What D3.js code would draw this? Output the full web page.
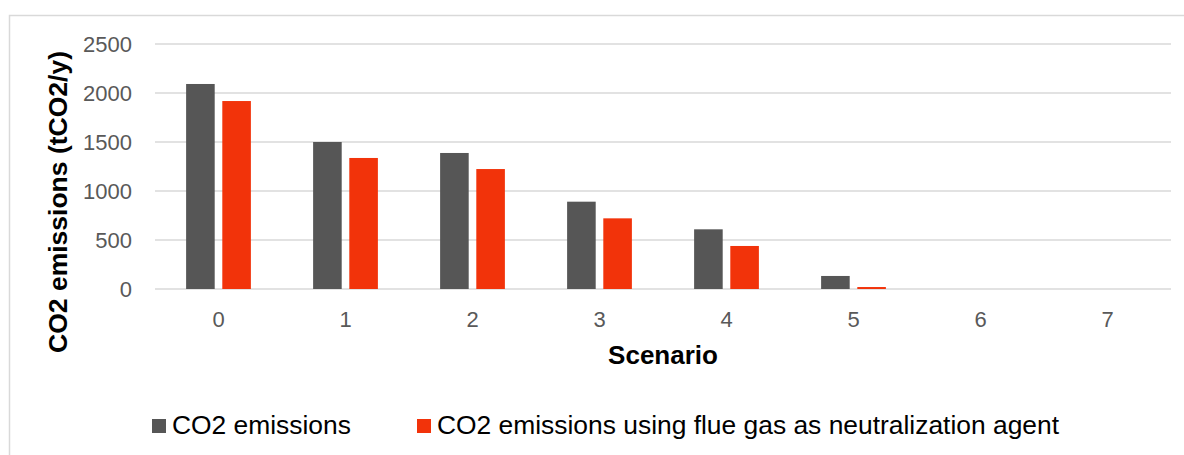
<!DOCTYPE html>
<html>
<head>
<meta charset="utf-8">
<script src="https://cdn.jsdelivr.net/npm/d3@7"></script>
<style>
  html, body { margin: 0; padding: 0; background: #ffffff; }
  svg { display: block; font-family: "Liberation Sans", Arial, sans-serif; }
</style>
</head>
<body>
<svg id="chart" width="1184" height="455"></svg>
<script>
// Scenario categories and yearly CO2 emissions (tCO2/y)
const scenarios = ["0", "1", "2", "3", "4", "5", "6", "7"];
const seriesNames = ["CO2 emissions", "CO2 emissions using flue gas as neutralization agent"];
const co2Emissions = [2092, 1500, 1388, 891, 609, 133, 0, 0];
const co2FlueGas = [1918, 1337, 1224, 721, 439, 20, 0, 0];
const yTicks = [0, 500, 1000, 1500, 2000, 2500];
const seriesColors = ["#565656", "#f2330a"];

const svg = d3.select("#chart");
const FONT = "'Liberation Sans', Arial, sans-serif";

// chart area frame
svg.append("rect")
  .attr("x", 9.5).attr("y", 15.5)
  .attr("width", 1200).attr("height", 460)
  .attr("fill", "none").attr("stroke", "#d9d9d9").attr("stroke-width", 1.5);

const plot = { left: 155, right: 1171, top: 44, bottom: 289 };

const x0 = d3.scaleBand().domain(scenarios)
  .range([plot.left, plot.right]).paddingInner(0.49).paddingOuter(0.245);
const x1 = d3.scaleBand().domain(seriesNames)
  .range([0, x0.bandwidth()]).paddingInner(0.21);
const y = d3.scaleLinear().domain([0, 2500]).range([plot.bottom, plot.top]);

// gridlines
svg.append("g").selectAll("line").data(yTicks).join("line")
  .attr("x1", plot.left).attr("x2", plot.right)
  .attr("y1", d => y(d)).attr("y2", d => y(d))
  .attr("stroke", "#d9d9d9").attr("stroke-width", 1.5);

// y axis labels
const yAxis = d3.axisLeft(y).tickValues(yTicks).tickFormat(d3.format("d")).tickSize(0).tickPadding(0);
const gy = svg.append("g").attr("transform", `translate(${plot.left - 23},0)`).call(yAxis);
gy.select(".domain").remove();
gy.selectAll("text")
  .attr("fill", "#595959").attr("font-size", 22).attr("font-family", FONT);

// x axis labels
const xAxis = d3.axisBottom(x0).tickSize(0).tickPadding(0);
const gx = svg.append("g").attr("transform", `translate(0,${plot.bottom + 22})`).call(xAxis);
gx.select(".domain").remove();
gx.selectAll("text")
  .attr("fill", "#595959").attr("font-size", 22).attr("font-family", FONT);

// bars
const rows = scenarios.map((s, i) => ({ s, vals: [co2Emissions[i], co2FlueGas[i]] }));
const groups = svg.append("g").selectAll("g").data(rows).join("g")
  .attr("transform", d => `translate(${x0(d.s)},0)`);
groups.selectAll("rect")
  .data(d => d.vals.map((v, k) => ({ name: seriesNames[k], v, k })))
  .join("rect")
  .attr("x", d => x1(d.name))
  .attr("width", x1.bandwidth())
  .attr("y", d => y(d.v))
  .attr("height", d => y(0) - y(d.v))
  .attr("fill", d => seriesColors[d.k]);

// axis titles
svg.append("text")
  .attr("x", (plot.left + plot.right) / 2).attr("y", 364)
  .attr("text-anchor", "middle").attr("font-size", 26).attr("font-weight", "bold")
  .attr("font-family", FONT).attr("fill", "#000").text("Scenario");

svg.append("text")
  .attr("transform", "translate(67,202) rotate(-90)")
  .attr("text-anchor", "middle").attr("font-size", 26.5).attr("font-weight", "bold")
  .attr("font-family", FONT).attr("fill", "#000").text("CO2 emissions (tCO2/y)");

// legend
const legendX = [152, 417];
const legend = svg.append("g").selectAll("g").data(seriesNames).join("g")
  .attr("transform", (d, i) => `translate(${legendX[i]},419)`);
legend.append("rect").attr("width", 14).attr("height", 14)
  .attr("fill", (d, i) => seriesColors[i]);
legend.append("text").attr("x", 20).attr("y", 15)
  .attr("font-size", 26.4).attr("font-family", FONT).attr("fill", "#000").text(d => d);
</script>
</body>
</html>
